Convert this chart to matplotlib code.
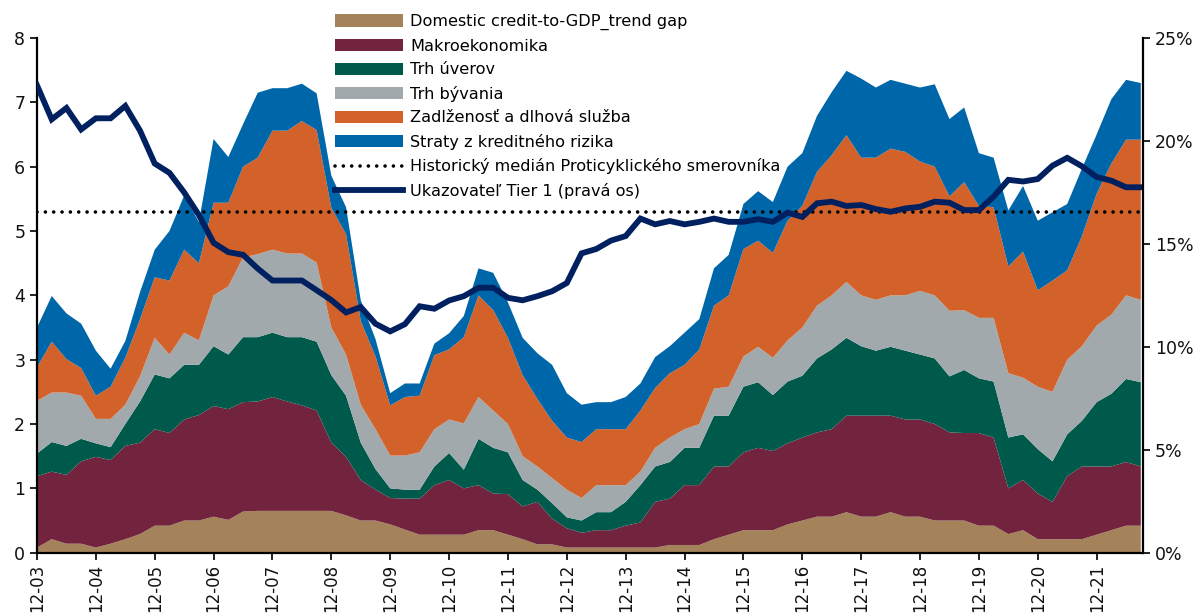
import matplotlib
matplotlib.use("Agg")
import matplotlib.pyplot as plt
from matplotlib.ticker import FuncFormatter
import numpy as np

plt.rcParams['font.family'] = ['DejaVu Sans']

# Quarterly observations 12-03 .. 9-22
tick_labels = ["12-03", "12-04", "12-05", "12-06", "12-07", "12-08", "12-09", "12-10",
               "12-11", "12-12", "12-13", "12-14", "12-15", "12-16", "12-17", "12-18",
               "12-19", "12-20", "12-21"]

credit_gap = [0.08, 0.21, 0.14, 0.14, 0.08, 0.14, 0.21, 0.29, 0.42, 0.42, 0.50, 0.50, 0.56, 0.51, 0.64, 0.65,
              0.65, 0.65, 0.65, 0.65, 0.65, 0.58, 0.50, 0.50, 0.44, 0.36, 0.28, 0.28, 0.28, 0.28, 0.35, 0.35,
              0.28, 0.21, 0.13, 0.13, 0.08, 0.08, 0.08, 0.08, 0.08, 0.08, 0.08, 0.12, 0.12, 0.12, 0.21, 0.28,
              0.35, 0.35, 0.35, 0.44, 0.50, 0.56, 0.56, 0.63, 0.56, 0.56, 0.63, 0.56, 0.56, 0.50, 0.50, 0.50,
              0.42, 0.42, 0.29, 0.35, 0.21, 0.21, 0.21, 0.21, 0.28, 0.35, 0.42, 0.42]
makro = [1.11, 1.05, 1.07, 1.28, 1.41, 1.30, 1.45, 1.42, 1.50, 1.44, 1.57, 1.64, 1.72, 1.72, 1.70, 1.70,
         1.77, 1.70, 1.64, 1.56, 1.06, 0.91, 0.63, 0.48, 0.41, 0.48, 0.56, 0.77, 0.85, 0.72, 0.70, 0.57,
         0.63, 0.51, 0.66, 0.40, 0.30, 0.23, 0.27, 0.27, 0.34, 0.39, 0.71, 0.72, 0.93, 0.93, 1.13, 1.06,
         1.21, 1.28, 1.23, 1.26, 1.29, 1.31, 1.36, 1.50, 1.57, 1.57, 1.50, 1.51, 1.51, 1.50, 1.37, 1.36,
         1.44, 1.37, 0.71, 0.78, 0.71, 0.58, 0.98, 1.13, 1.06, 0.99, 0.99, 0.92]
trh_uverov = [0.35, 0.46, 0.45, 0.35, 0.21, 0.20, 0.34, 0.64, 0.85, 0.85, 0.85, 0.78, 0.93, 0.85, 1.01, 1.00,
              1.00, 1.00, 1.06, 1.07, 1.05, 0.95, 0.58, 0.32, 0.15, 0.14, 0.14, 0.29, 0.42, 0.29, 0.72, 0.71,
              0.65, 0.41, 0.19, 0.24, 0.17, 0.19, 0.28, 0.28, 0.37, 0.58, 0.55, 0.57, 0.58, 0.58, 0.79, 0.79,
              1.02, 1.02, 0.87, 0.96, 0.96, 1.15, 1.24, 1.21, 1.08, 1.01, 1.07, 1.07, 1.01, 1.02, 0.87, 0.98,
              0.85, 0.87, 0.79, 0.71, 0.69, 0.63, 0.65, 0.71, 1.00, 1.13, 1.29, 1.31]
trh_byvania = [0.82, 0.77, 0.83, 0.67, 0.38, 0.44, 0.30, 0.39, 0.57, 0.37, 0.50, 0.38, 0.79, 1.06, 1.24, 1.29,
               1.29, 1.30, 1.30, 1.23, 0.74, 0.64, 0.59, 0.62, 0.51, 0.53, 0.58, 0.58, 0.52, 0.72, 0.65, 0.58,
               0.44, 0.37, 0.36, 0.39, 0.43, 0.35, 0.42, 0.42, 0.26, 0.21, 0.29, 0.38, 0.29, 0.37, 0.42, 0.45,
               0.47, 0.55, 0.58, 0.64, 0.75, 0.82, 0.84, 0.87, 0.79, 0.79, 0.80, 0.86, 0.99, 0.98, 1.02, 0.93,
               0.94, 0.99, 1.00, 0.88, 0.97, 1.08, 1.16, 1.16, 1.19, 1.23, 1.30, 1.28]
zadlzenost = [0.52, 0.79, 0.52, 0.43, 0.36, 0.50, 0.73, 0.89, 0.94, 1.15, 1.29, 1.20, 1.44, 1.30, 1.41, 1.50,
              1.85, 1.91, 2.06, 2.06, 1.86, 1.87, 1.30, 1.13, 0.78, 0.91, 0.88, 1.15, 1.09, 1.34, 1.58, 1.56,
              1.34, 1.26, 1.05, 0.89, 0.81, 0.87, 0.87, 0.87, 0.87, 0.95, 0.93, 1.00, 1.00, 1.16, 1.29, 1.42,
              1.67, 1.65, 1.63, 1.86, 1.89, 2.08, 2.18, 2.28, 2.14, 2.21, 2.28, 2.23, 2.01, 2.00, 1.78, 1.99,
              1.74, 1.72, 1.66, 1.96, 1.50, 1.73, 1.39, 1.71, 2.05, 2.35, 2.42, 2.49]
straty = [0.62, 0.71, 0.71, 0.69, 0.70, 0.28, 0.26, 0.42, 0.43, 0.77, 0.84, 0.64, 0.99, 0.71, 0.66, 1.01,
          0.66, 0.66, 0.58, 0.57, 0.50, 0.42, 0.32, 0.27, 0.19, 0.21, 0.19, 0.18, 0.25, 0.33, 0.42, 0.58,
          0.55, 0.58, 0.71, 0.87, 0.69, 0.58, 0.42, 0.42, 0.50, 0.42, 0.48, 0.42, 0.50, 0.47, 0.58, 0.63,
          0.70, 0.77, 0.79, 0.84, 0.82, 0.87, 0.98, 1.00, 1.23, 1.09, 1.07, 1.06, 1.15, 1.28, 1.20, 1.16,
          0.82, 0.77, 0.87, 1.02, 1.08, 1.06, 1.03, 1.05, 0.92, 1.00, 0.93, 0.88]
median_ccyb = 5.29
tier1 = [22.7, 21.05, 21.6, 20.56, 21.1, 21.1, 21.7, 20.5, 18.9, 18.45, 17.5, 16.4, 15.05, 14.6, 14.47, 13.8,
         13.22, 13.22, 13.22, 12.75, 12.27, 11.67, 11.93, 11.12, 10.75, 11.1, 11.97, 11.85, 12.25, 12.46, 12.87, 12.87,
         12.38, 12.26, 12.46, 12.7, 13.1, 14.54, 14.75, 15.16, 15.38, 16.23, 15.95, 16.11, 15.95, 16.07, 16.23, 16.07,
         16.07, 16.2, 16.07, 16.52, 16.31, 16.97, 17.05, 16.84, 16.89, 16.69, 16.56, 16.72, 16.8, 17.05, 17.0, 16.64,
         16.64, 17.3, 18.11, 18.03, 18.15, 18.8, 19.18, 18.77, 18.25, 18.07, 17.75, 17.75]

labels = ["Domestic credit-to-GDP_trend gap", "Makroekonomika", "Trh úverov", "Trh bývania",
          "Zadlženosť a dlhová služba", "Straty z kreditného rizika"]
colors = ["#A5835A", "#72243E", "#005A4B", "#A2A9AD", "#D2612A", "#0066AA"]
line_color = "#00205F"

x = np.arange(len(credit_gap))

fig = plt.figure(figsize=(11.98, 6.13), dpi=100)
ax = fig.add_axes([37/1198, 1-552.7/613, (1143-37)/1198, (552.7-38)/613])

polys = ax.stackplot(x, credit_gap, makro, trh_uverov, trh_byvania, zadlzenost, straty,
                     colors=colors, labels=labels, linewidth=0)
med, = ax.plot([x[0], x[-1]], [median_ccyb, median_ccyb], color="black", lw=2.6,
               linestyle=(0, (0.01, 2.3)), dash_capstyle="round",
               label="Historický medián Proticyklického smerovníka")

ax.set_ylim(0, 8)
ax.set_xlim(0, len(x) - 1 + 0.15)
ax.set_yticks(range(0, 9))
ax.set_xticks(np.arange(0, len(tick_labels) * 4, 4))
ax.set_xticklabels(tick_labels, rotation=90)

ax2 = ax.twinx()
ln, = ax2.plot(x, np.array(tier1) / 100, color=line_color, lw=4.2, solid_joinstyle="miter",
               label="Ukazovateľ Tier 1 (pravá os)")
ax2.set_ylim(0, 0.25)
ax2.set_yticks(np.arange(0, 0.2501, 0.05))
ax2.yaxis.set_major_formatter(FuncFormatter(lambda v, p: f"{v*100:.0f}%"))

for a in (ax, ax2):
    a.spines["top"].set_visible(False)
    for s in ("left", "right", "bottom"):
        a.spines[s].set_linewidth(1.6)
        a.spines[s].set_color("black")
    a.tick_params(axis="both", direction="out", length=5, width=1.3, labelsize=12.5, colors="#111111")
ax.tick_params(axis="x", labelsize=12, pad=3)
ax.spines["right"].set_visible(False)
ax2.spines["left"].set_visible(False)
ax2.spines["bottom"].set_visible(False)

handles = list(polys) + [med, ln]
leg = ax2.legend(handles, labels + [med.get_label(), ln.get_label()],
                 loc="upper left", bbox_to_anchor=(335/1198, 1 - 14/613),
                 bbox_transform=fig.transFigure, frameon=False, fontsize=11.6,
                 handlelength=4.2, handleheight=0.8, handletextpad=0.45,
                 labelspacing=0.53, borderpad=0, borderaxespad=0)

fig.savefig("out.png", dpi=100)
